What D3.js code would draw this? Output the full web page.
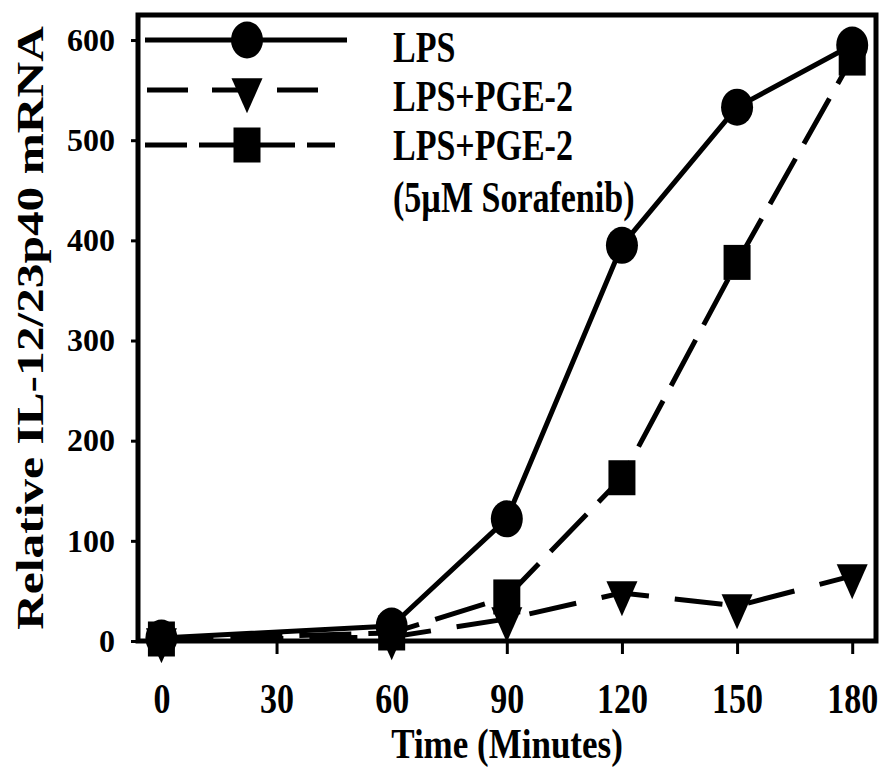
<!DOCTYPE html>
<html>
<head>
<meta charset="utf-8">
<script src="https://cdn.jsdelivr.net/npm/d3@7"></script>
<style>
  html, body { margin: 0; padding: 0; background: #fff; }
  svg { display: block; }
  text { font-family: "Liberation Serif", "Times New Roman", serif; font-weight: bold; fill: #000; }
</style>
</head>
<body>
<svg id="chart" width="882" height="767"></svg>
<script>
// Sampling times (minutes) and axis ticks
const times = [0, 60, 90, 120, 150, 180];
const xTicks = [0, 30, 60, 90, 120, 150, 180];
const yTicks = [0, 100, 200, 300, 400, 500, 600];

// Relative IL-12/23p40 mRNA for each treatment
const lps = [3, 15, 122, 395, 533, 595];
const lpsPge2 = [1, 4, 22, 48, 35, 65];
const lpsPge2Sorafenib = [2, 8, 44, 163, 378, 582];

// Legend labels in legend order (the third entry wraps onto a second line)
const legendLabels = [["LPS"], ["LPS+PGE-2"], ["LPS+PGE-2", "(5µM Sorafenib)"]];
const xTitle = "Time (Minutes)";
const yTitle = "Relative IL-12/23p40 mRNA";

const plot = { left: 138, right: 876, top: 15, bottom: 641 };

const x = d3.scaleLinear().domain([-6.1, 186.2]).range([plot.left, plot.right]);
const y = d3.scaleLinear().domain([0, 625]).range([plot.bottom, plot.top]);

const svg = d3.select("#chart");

// Marker shapes: slightly tall ellipse, tall square, down-pointing triangle
const markers = {
  circle: g => g.append("ellipse").attr("rx", 16).attr("ry", 18.5),
  triangle: g => g.append("path").attr("d", "M-15.5,-11.7L15.5,-11.7L0,23.3Z"),
  square: g => g.append("rect").attr("x", -13.5).attr("y", -17.5).attr("width", 27).attr("height", 35)
};

const lpsSeries = { values: lps, marker: "circle", dash: null, legendDash: null };
const pgeSeries = { values: lpsPge2, marker: "triangle", dash: "48,26", legendDash: "41,24" };
const soraSeries = { values: lpsPge2Sorafenib, marker: "square", dash: "52,17", legendDash: "42,12" };

// Drawing order (solid LPS on top) and legend order
const drawOrder = [pgeSeries, soraSeries, lpsSeries];
const legendOrder = [lpsSeries, pgeSeries, soraSeries];

// Frame
svg.append("rect")
  .attr("x", x.range()[0]).attr("y", y.range()[1])
  .attr("width", x.range()[1] - x.range()[0])
  .attr("height", y.range()[0] - y.range()[1])
  .attr("fill", "none").attr("stroke", "#000").attr("stroke-width", 5);

// Y axis
const yAxis = svg.append("g")
  .attr("transform", `translate(${plot.left},0)`)
  .call(d3.axisLeft(y).tickValues(yTicks).tickSize(7).tickPadding(16));
yAxis.select(".domain").remove();
yAxis.selectAll(".tick line").attr("stroke", "#000").attr("stroke-width", 3);
yAxis.selectAll(".tick text")
  .style("font-family", '"Liberation Serif", serif')
  .style("font-weight", "bold")
  .attr("font-size", 32);

// X axis
const xAxis = svg.append("g")
  .attr("transform", `translate(0,${plot.bottom})`)
  .call(d3.axisBottom(x).tickValues(xTicks).tickSize(13));
xAxis.select(".domain").remove();
xAxis.selectAll(".tick line").attr("stroke", "#000").attr("stroke-width", 3);
xAxis.selectAll(".tick text")
  .style("font-family", '"Liberation Serif", serif')
  .style("font-weight", "bold")
  .attr("font-size", 34)
  .attr("y", 0).attr("dy", null)
  .attr("transform", "translate(0,72) scale(1,1.22)");

// Axis titles
svg.append("text")
  .attr("text-anchor", "middle")
  .attr("font-size", 35)
  .attr("transform", `translate(${(plot.left + plot.right) / 2},758) scale(1,1.18)`)
  .text(xTitle);

svg.append("text")
  .attr("text-anchor", "middle")
  .attr("font-size", 38)
  .attr("transform", `translate(43,328) rotate(-90) scale(1.3,1)`)
  .text(yTitle);

// Series lines
const line = d3.line().x((d, i) => x(times[i])).y(d => y(d));
drawOrder.forEach(s => {
  svg.append("path")
    .attr("d", line(s.values))
    .attr("fill", "none")
    .attr("stroke", "#000")
    .attr("stroke-width", 5)
    .attr("stroke-linejoin", "round")
    .attr("stroke-dasharray", s.dash);
});

// Series markers
drawOrder.forEach(s => {
  s.values.forEach((v, i) => {
    const g = svg.append("g").attr("transform", `translate(${x(times[i])},${y(v)})`);
    markers[s.marker](g).attr("fill", "#000");
  });
});

// Legend
const legendRows = [
  { lineY: 40, x0: 145, x1: 347, textY: [62] },
  { lineY: 90, x0: 147, x1: 323, textY: [111] },
  { lineY: 145, x0: 145, x1: 335, textY: [160, 212] }
];
legendOrder.forEach((s, k) => {
  const row = legendRows[k];
  svg.append("line")
    .attr("x1", row.x0).attr("x2", row.x1)
    .attr("y1", row.lineY).attr("y2", row.lineY)
    .attr("stroke", "#000").attr("stroke-width", 5)
    .attr("stroke-dasharray", s.legendDash);
  const g = svg.append("g").attr("transform", `translate(247,${row.lineY})`);
  markers[s.marker](g).attr("fill", "#000");
  legendLabels[k].forEach((t, j) => {
    svg.append("text")
      .attr("font-size", 34)
      .attr("transform", `translate(393,${row.textY[j]}) scale(1,1.3)`)
      .text(t);
  });
});
</script>
</body>
</html>
